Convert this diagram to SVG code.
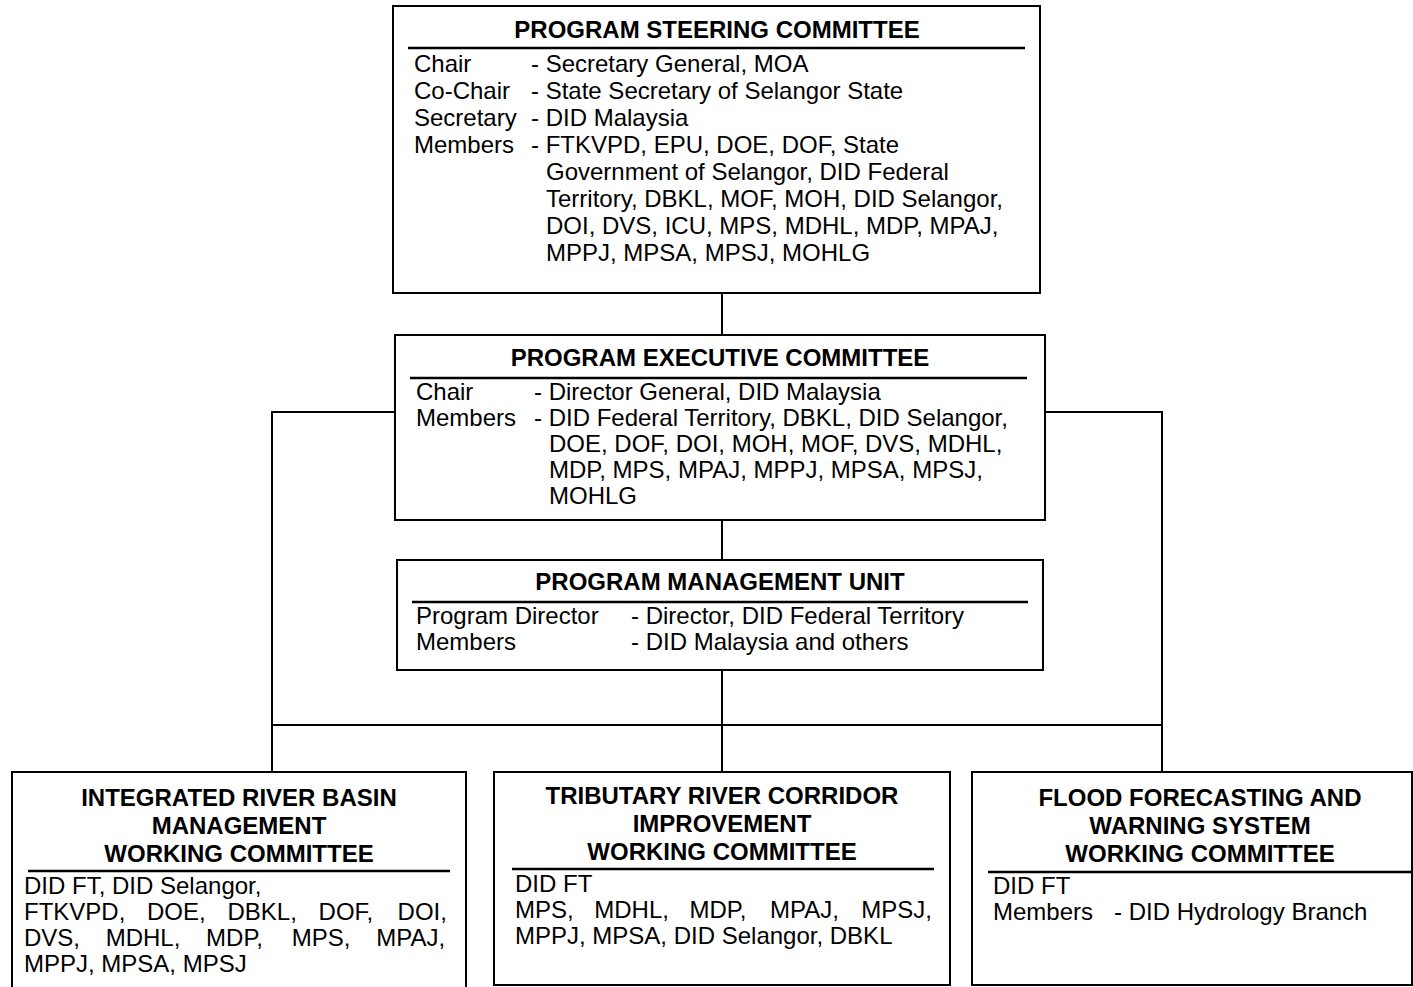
<svg xmlns="http://www.w3.org/2000/svg" width="1413" height="987" viewBox="0 0 1413 987">
<style>
.box{fill:#fff;stroke:#000;stroke-width:2}
.rule{stroke:#000;stroke-width:2.5}
.conn{fill:none;stroke:#000;stroke-width:2}
text{font-family:"Liberation Sans",Arial,sans-serif;font-size:24px;fill:#000}
.h{font-weight:bold;text-anchor:middle}
</style>
<rect width="1413" height="987" fill="#fff"/>
<g id="connectors">
<path class="conn" d="M722,293 V335"/>
<path class="conn" d="M722,520 V560"/>
<path class="conn" d="M722,670 V772"/>
<path class="conn" d="M272,725 H1162"/>
<path class="conn" d="M395,412 H272 V772"/>
<path class="conn" d="M1045,412 H1162 V772"/>
</g>
<g id="steering">
<rect class="box" x="393" y="6" width="647" height="287"/>
<text class="h" x="717" y="38">PROGRAM STEERING COMMITTEE</text>
<line class="rule" x1="408" y1="48" x2="1025" y2="48"/>
<text x="414" y="72">Chair</text><text x="531" y="72">- Secretary General, MOA</text>
<text x="414" y="99">Co-Chair</text><text x="531" y="99">- State Secretary of Selangor State</text>
<text x="414" y="126">Secretary</text><text x="531" y="126">- DID Malaysia</text>
<text x="414" y="153">Members</text><text x="531" y="153">- FTKVPD, EPU, DOE, DOF, State</text>
<text x="546" y="180">Government of Selangor, DID Federal</text>
<text x="546" y="207">Territory, DBKL, MOF, MOH, DID Selangor,</text>
<text x="546" y="234">DOI, DVS, ICU, MPS, MDHL, MDP, MPAJ,</text>
<text x="546" y="261">MPPJ, MPSA, MPSJ, MOHLG</text>
</g>
<g id="executive">
<rect class="box" x="395" y="335" width="650" height="185"/>
<text class="h" x="720" y="366">PROGRAM EXECUTIVE COMMITTEE</text>
<line class="rule" x1="410" y1="378" x2="1027" y2="378"/>
<text x="416" y="400">Chair</text><text x="534" y="400">- Director General, DID Malaysia</text>
<text x="416" y="426">Members</text><text x="534" y="426">- DID Federal Territory, DBKL, DID Selangor,</text>
<text x="549" y="452">DOE, DOF, DOI, MOH, MOF, DVS, MDHL,</text>
<text x="549" y="478">MDP, MPS, MPAJ, MPPJ, MPSA, MPSJ,</text>
<text x="549" y="504">MOHLG</text>
</g>
<g id="pmu">
<rect class="box" x="397" y="560" width="646" height="110"/>
<text class="h" x="720" y="590">PROGRAM MANAGEMENT UNIT</text>
<line class="rule" x1="412" y1="602" x2="1028" y2="602"/>
<text x="416" y="624">Program Director</text><text x="631" y="624">- Director, DID Federal Territory</text>
<text x="416" y="650">Members</text><text x="631" y="650">- DID Malaysia and others</text>
</g>
<g id="irbm">
<rect class="box" x="12" y="772" width="454" height="225"/>
<text class="h" x="239" y="806">INTEGRATED RIVER BASIN</text>
<text class="h" x="239" y="834">MANAGEMENT</text>
<text class="h" x="239" y="862">WORKING COMMITTEE</text>
<line class="rule" x1="28" y1="871" x2="450" y2="871"/>
<text x="24" y="894">DID FT, DID Selangor,</text>
<text y="920"><tspan x="24">FTKVPD,</tspan><tspan x="147">DOE,</tspan><tspan x="227.5">DBKL,</tspan><tspan x="318.6">DOF,</tspan><tspan x="397.6">DOI,</tspan></text>
<text y="946"><tspan x="24">DVS,</tspan><tspan x="105.7">MDHL,</tspan><tspan x="206.1">MDP,</tspan><tspan x="291.8">MPS,</tspan><tspan x="376.2">MPAJ,</tspan></text>
<text x="24" y="972">MPPJ, MPSA, MPSJ</text>
</g>
<g id="trci">
<rect class="box" x="494" y="772" width="456" height="213"/>
<text class="h" x="722" y="804">TRIBUTARY RIVER CORRIDOR</text>
<text class="h" x="722" y="832">IMPROVEMENT</text>
<text class="h" x="722" y="860">WORKING COMMITTEE</text>
<line class="rule" x1="512" y1="869" x2="934" y2="869"/>
<text x="515" y="892">DID FT</text>
<text y="918"><tspan x="515">MPS,</tspan><tspan x="594.3">MDHL,</tspan><tspan x="689.5">MDP,</tspan><tspan x="770">MPAJ,</tspan><tspan x="861.3">MPSJ,</tspan></text>
<text x="515" y="944">MPPJ, MPSA, DID Selangor, DBKL</text>
</g>
<g id="ffws">
<rect class="box" x="972" y="772" width="440" height="213"/>
<text class="h" x="1200" y="806">FLOOD FORECASTING AND</text>
<text class="h" x="1200" y="834">WARNING SYSTEM</text>
<text class="h" x="1200" y="862">WORKING COMMITTEE</text>
<line class="rule" x1="988" y1="872" x2="1413" y2="872"/>
<text x="993" y="894">DID FT</text>
<text x="993" y="920">Members</text><text x="1114" y="920">- DID Hydrology Branch</text>
</g>
</svg>
